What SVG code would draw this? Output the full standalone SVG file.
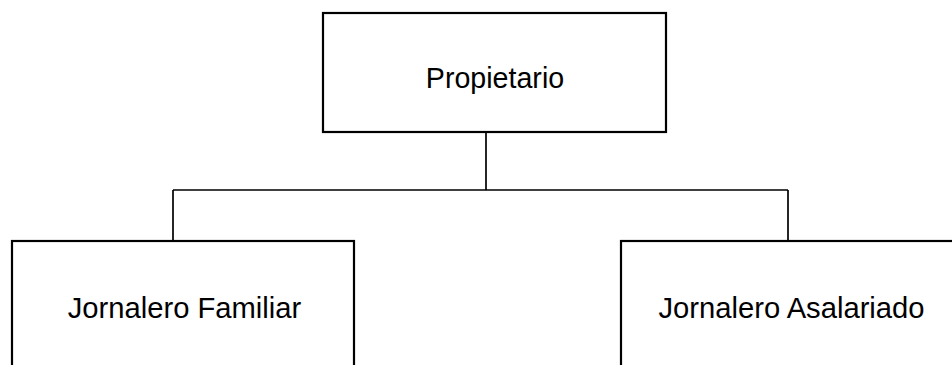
<svg xmlns="http://www.w3.org/2000/svg" width="952" height="365" viewBox="0 0 952 365">
<style>
.box{fill:#fff;stroke:#000;stroke-width:2.2}
.lbl{font-family:"Liberation Sans",Arial,sans-serif;font-size:29.2px;fill:#000;text-anchor:middle}
.conn{fill:none;stroke:#000;stroke-width:1.7}
</style>
<rect width="952" height="365" fill="#fff"/>
<g id="connectors">
<path class="conn" d="M486,132 V190 M173,190 H788 M173,190 V241 M788,190 V241"/>
</g>
<g id="propietario">
<rect class="box" x="323" y="13" width="343" height="119"/>
<text class="lbl" x="495" y="88" style="font-size:28.6px">Propietario</text>
</g>
<g id="jornalero-familiar">
<rect class="box" x="12" y="241" width="342" height="140"/>
<text class="lbl" x="184.5" y="318">Jornalero Familiar</text>
</g>
<g id="jornalero-asalariado">
<rect class="box" x="621" y="241" width="342" height="140"/>
<text class="lbl" x="791.5" y="318">Jornalero Asalariado</text>
</g>
</svg>
